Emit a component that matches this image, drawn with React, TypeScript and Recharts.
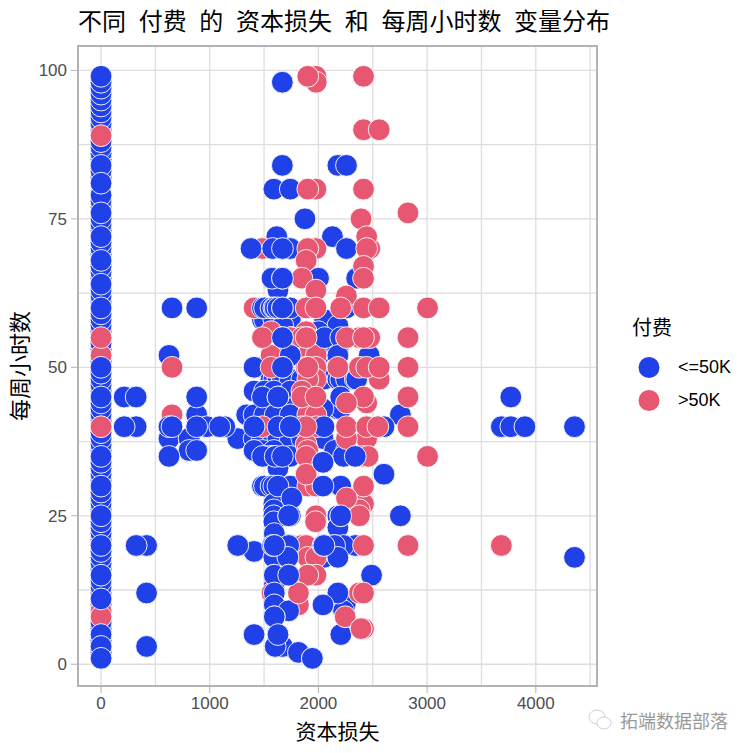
import React from 'react';
import { ScatterChart, Scatter, XAxis, YAxis, CartesianGrid, ReferenceArea } from 'recharts';

const BLUE = '#2141E8';
const PINK = '#E85771';

// hours at capital loss 0, lowest layer first
const zeroLossPinkHours = [73, 22];
const zeroLossBlueHours = [
  2, 4, 6, 7, 9, 10, 12, 13, 14, 16, 17, 18, 19, 21, 22, 23, 24, 26, 27, 28, 29, 31, 32, 33, 34, 36, 37, 38, 39,
  41, 42, 43, 44, 46, 47, 48, 49, 51, 53, 54, 56, 57, 58, 59, 61, 62, 63, 65, 66, 67, 69, 70, 71, 73, 74, 75, 77, 78,
  79, 82, 83, 85, 86, 87, 88, 90, 91, 92, 93, 94, 95, 96, 97, 98,
];
const zeroLossPinkMidHours = [52, 9, 8];
const zeroLossBlueTopHours = [99, 84, 81, 76, 72, 68, 64, 60, 50, 45, 35, 30, 25, 20, 15, 11, 5, 3, 1];
const zeroLossPinkTopHours = [89, 55, 40];

const blueUnder: [number, number][] = [
  [1617, 72], [2129, 72], [1573, 65], [1628, 63], [1485, 58], [1504, 58], [1590, 58], [1741, 58], [2057, 58],
  [2179, 57], [1672, 57], [1755, 55], [2001, 56], [2002, 52], [1741, 53], [1848, 53], [2179, 53], [2467, 52],
  [1408, 50], [1485, 50], [1564, 48], [1590, 48], [1628, 48], [1669, 48], [1740, 48], [1848, 48], [2051, 48],
  [2179, 48], [2205, 48], [2258, 48], [2339, 48], [1408, 46], [1504, 46], [1590, 46], [1741, 46], [1590, 43],
  [1628, 42], [1741, 43], [2179, 43], [2205, 43], [1340, 42], [1408, 42], [1504, 42], [1602, 42], [1741, 42],
  [2001, 42], [2042, 43], [2754, 42], [1258, 38], [1408, 38], [1485, 38], [1590, 38], [1628, 38], [1741, 38],
  [1848, 38], [2042, 38], [1408, 36], [1485, 36], [1590, 36], [2149, 36], [2258, 36], [1504, 35], [1564, 35],
  [1590, 35], [1741, 35], [2231, 35], [1628, 33], [1485, 30], [1504, 30], [1564, 30], [1590, 30], [1741, 30],
  [2205, 30], [1590, 27], [1590, 26], [1590, 25], [1590, 24], [1726, 25], [1741, 25], [2179, 25], [2179, 23],
  [1594, 22], [1408, 19], [1590, 18], [1726, 20], [1741, 20], [2051, 18], [2179, 18], [2149, 20], [2339, 20],
  [2231, 20], [1590, 15], [1590, 13], [1590, 12], [1590, 10], [1726, 9], [2246, 10], [2231, 9], [1669, 3], [1816, 2],
  [625, 52], [625, 38], [810, 38], [880, 42], [810, 36], [974, 40], [1138, 40], [323, 40], [419, 20], [1579, 20],
];
const pinkUnder: [number, number][] = [
  [1485, 70], [1977, 99], [1980, 98], [1977, 80], [1977, 70], [2472, 70], [1902, 65], [1408, 60], [1887, 60],
  [1564, 56], [1887, 56], [1740, 55], [1848, 55], [1902, 55], [1564, 52], [1902, 52], [1980, 52], [1887, 50],
  [1977, 50], [1977, 48], [1902, 48], [2559, 48], [1848, 46], [1902, 44], [1902, 42], [1977, 42], [1485, 40],
  [1848, 40], [1980, 40], [2444, 44], [2444, 38], [2258, 38], [1887, 37], [1902, 36], [1887, 35], [2415, 35],
  [2457, 35], [1902, 30], [1977, 30], [2415, 27], [2377, 26], [1977, 25], [1573, 12], [1848, 20], [1887, 20],
  [1902, 18], [1977, 18], [1902, 15], [1977, 15], [1816, 10], [2377, 12], [2415, 6], [2392, 6], [653, 42],
  [2472, 55], [2377, 55],
];
const blueOver: [number, number][] = [
  [1590, 80], [1741, 80], [1668, 98], [1668, 84], [2179, 84], [1876, 75], [1380, 70], [1579, 70], [1741, 70],
  [2258, 70], [1573, 65], [1669, 65], [2352, 65], [2001, 65], [1485, 60], [1504, 60], [1564, 60], [1590, 60],
  [1602, 60], [1628, 60], [1741, 60], [1669, 60], [2258, 60], [1669, 55], [2057, 55], [2205, 55], [1741, 52],
  [2179, 52], [1408, 50], [1669, 50], [2352, 48], [1485, 45], [2205, 45], [1092, 40], [1408, 40], [1628, 40],
  [1741, 40], [2051, 40], [2603, 40], [2042, 34], [1408, 36], [1485, 35], [1628, 45], [1628, 30], [1755, 28],
  [1602, 35], [2603, 32], [1726, 20], [2754, 25], [2205, 25], [1594, 20], [2042, 20], [2149, 20], [2179, 18],
  [1719, 18], [1726, 15], [1594, 15], [1594, 12], [2179, 12], [2042, 10], [1594, 10], [1726, 9], [1594, 8],
  [1408, 5], [1628, 5], [2206, 5], [1602, 3], [1944, 1], [1258, 20], [2489, 15], [625, 40], [625, 35], [880, 45],
  [880, 40], [880, 36], [653, 60], [880, 60], [213, 45], [323, 45], [213, 40], [323, 20], [419, 12], [419, 3],
  [3683, 40], [3770, 45], [3770, 40], [3900, 40], [4356, 40], [4356, 18],
];
const pinkOver: [number, number][] = [
  [1902, 99], [2415, 99], [2415, 90], [2559, 90], [1902, 80], [2415, 80], [2392, 75], [2824, 76], [2444, 72],
  [1902, 70], [2444, 70], [1887, 68], [2415, 67], [2415, 65], [1848, 65], [1977, 63], [2258, 62], [1887, 60],
  [1977, 60], [2205, 60], [2415, 60], [2559, 60], [3004, 60], [1485, 55], [1887, 55], [2258, 55], [2415, 55],
  [2824, 55], [1902, 50], [2179, 50], [2377, 50], [2444, 50], [2559, 50], [2824, 50], [1564, 50], [653, 50],
  [1848, 45], [1977, 45], [2415, 45], [2824, 45], [2258, 44], [1887, 40], [2258, 40], [2444, 40], [2547, 40],
  [2824, 40], [3004, 35], [1887, 32], [2415, 30], [2258, 28], [2377, 25], [1974, 24], [2415, 20], [2824, 20],
  [3683, 20], [1902, 15], [1816, 12], [2415, 12], [2246, 8], [2392, 6],
];
const blueTop: [number, number][] = [
  [2258, 84], [1669, 70], [1669, 65], [1669, 60], [1669, 55], [1669, 50], [1628, 45], [1669, 35], [2042, 34],
  [2339, 35], [2042, 30], [1741, 40], [1726, 25], [2205, 25], [1594, 20], [2051, 20], [1726, 15], [1594, 8],
  [1628, 5], [1944, 1], [653, 40],
];

const lossTicks = [0, 1000, 2000, 3000, 4000];
const hourTicks = [0, 25, 50, 75, 100];
const lossGrid = [0, 500, 1000, 1500, 2000, 2500, 3000, 3500, 4000, 4500];
const hourGrid = [0, 12.5, 25, 37.5, 50, 62.5, 75, 87.5, 100];
const lossDomain: [number, number] = [-212, 4563];
const hourDomain: [number, number] = [-3.66, 104.1];

const payLabels = ['<=50K', '>50K'];
const payColors = [BLUE, PINK];

const toRows = (pairs: [number, number][]) => pairs.map(([loss, hours]) => ({ loss, hours }));
const zeroRows = (hours: number[]) => hours.map((h) => ({ loss: 0, hours: h }));

const layers = [
  { rows: zeroRows(zeroLossPinkHours), fill: PINK },
  { rows: zeroRows(zeroLossBlueHours), fill: BLUE },
  { rows: zeroRows(zeroLossPinkMidHours), fill: PINK },
  { rows: zeroRows(zeroLossBlueTopHours), fill: BLUE },
  { rows: zeroRows(zeroLossPinkTopHours), fill: PINK },
  { rows: toRows(blueUnder), fill: BLUE },
  { rows: toRows(pinkUnder), fill: PINK },
  { rows: toRows(blueOver), fill: BLUE },
  { rows: toRows(pinkOver), fill: PINK },
  { rows: toRows(blueTop), fill: BLUE },
];

const CJK = '"Noto Sans CJK SC", sans-serif';
const LATIN = '"Liberation Sans", Arial, sans-serif';

const Dot = (props: any) => (
  <circle cx={props.cx} cy={props.cy} r={10.9} fill={props.fill} stroke="#ffffff" strokeWidth={0.9} />
);

const App: React.FC = () => {
  return (
    <div style={{ position: 'absolute', left: 0, top: 0, width: 753, height: 753, background: '#fff', overflow: 'hidden' }}>
      <div style={{ position: 'absolute', left: 78, top: 3, fontFamily: CJK, fontSize: 24, wordSpacing: 7.3, color: '#000', whiteSpace: 'pre', lineHeight: '34px' }}>
        不同 付费 的 资本损失 和 每周小时数 变量分布
      </div>

      <ScatterChart width={753} height={753} margin={{ top: 46, right: 156, bottom: 27, left: 38 }}>
        <CartesianGrid stroke="#dedede" strokeWidth={1.3} verticalValues={lossGrid} horizontalValues={hourGrid} />
        <XAxis
          type="number"
          dataKey="loss"
          domain={lossDomain}
          ticks={lossTicks}
          height={40}
          allowDataOverflow
          tick={{ fontFamily: LATIN, fontSize: 17, fill: '#4d4d4d' }}
          tickLine={{ stroke: '#b3b3b3' }}
          tickSize={7}
          tickMargin={4}
          axisLine={false}
          label={{ value: '资本损失', position: 'insideBottom', offset: -13, style: { fontFamily: CJK, fontSize: 21, fill: '#000' } }}
        />
        <YAxis
          type="number"
          dataKey="hours"
          domain={hourDomain}
          ticks={hourTicks}
          width={40}
          allowDataOverflow
          tick={{ fontFamily: LATIN, fontSize: 17, fill: '#4d4d4d' }}
          tickLine={{ stroke: '#b3b3b3' }}
          tickSize={7}
          tickMargin={4}
          axisLine={false}
          label={{ value: '每周小时数', angle: -90, position: 'insideLeft', offset: -18, style: { fontFamily: CJK, fontSize: 22, fill: '#000', textAnchor: 'middle' } }}
        />
        {layers.map((layer, i) => (
          <Scatter key={i} data={layer.rows} fill={layer.fill} shape={Dot} isAnimationActive={false} />
        ))}
        <ReferenceArea x1={lossDomain[0]} x2={lossDomain[1]} y1={hourDomain[0]} y2={hourDomain[1]} fill="none" stroke="#b3b3b3" strokeWidth={2} />
      </ScatterChart>

      <div style={{ position: 'absolute', left: 632, top: 313, fontFamily: CJK, fontSize: 20, lineHeight: '28px', color: '#000' }}>付费</div>
      {payLabels.map((label, i) => (
        <div key={label} style={{ position: 'absolute', left: 638, top: 356 + i * 33, height: 23, display: 'flex', alignItems: 'center' }}>
          <svg width={23} height={23} style={{ display: 'block' }}>
            <circle cx={11} cy={11.5} r={10.5} fill={payColors[i]} />
          </svg>
          <span style={{ position: 'absolute', left: 40, fontFamily: LATIN, fontSize: 18, color: '#000', whiteSpace: 'pre' }}>{label}</span>
        </div>
      ))}

      <svg width={24} height={24} style={{ position: 'absolute', left: 588, top: 708 }} fill="#fff" stroke="#d0d0d0" strokeWidth={1}>
        <ellipse cx={9} cy={9} rx={8} ry={7} />
        <ellipse cx={16} cy={15} rx={7} ry={6} />
      </svg>
      <div style={{ position: 'absolute', left: 620, top: 706, fontFamily: CJK, fontSize: 18, lineHeight: '28px', color: '#9a9a9a', whiteSpace: 'pre' }}>拓端数据部落</div>
    </div>
  );
};

export default App;
